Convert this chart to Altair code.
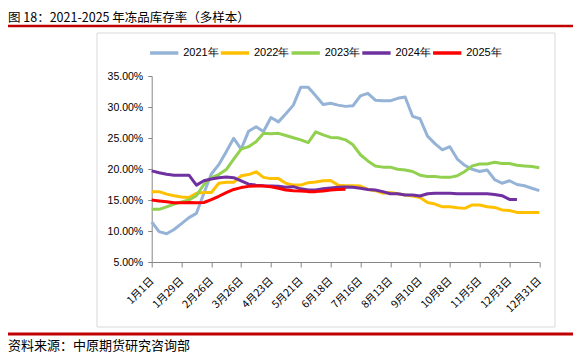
import altair as alt
import pandas as pd

TITLE = "图 18：2021-2025 年冻品库存率（多样本）"
SOURCE = "资料来源：中原期货研究咨询部"

series_names = ["2021年", "2022年", "2023年", "2024年", "2025年"]
series_colors = ["#95B3D7", "#FFC000", "#92D050", "#7030A0", "#FF0000"]

tick_labels = ["1月1日", "1月29日", "2月26日", "3月26日", "4月23日", "5月21日", "6月18日",
               "7月16日", "8月13日", "9月10日", "10月8日", "11月5日", "12月3日", "12月31日"]

v2021 = [11.45, 9.9, 9.55, 10.25, 11.2, 12.15, 12.85, 16.1, 19.2, 20.7, 22.8, 24.95, 23.2, 26.1,
         26.8, 26.05, 28.3, 27.6, 28.9, 30.3, 33.2, 33.2, 31.8, 30.4, 30.6, 30.3, 30.1,
         30.2, 31.8, 32.2, 31.1, 31.0, 31.0, 31.4, 31.6, 28.5, 28.1, 25.3, 24.1, 23.1, 23.6,
         21.6, 20.6, 19.95, 19.6, 19.85, 18.3, 17.7, 18.1, 17.5, 17.3, 16.9, 16.5]
v2022 = [16.35, 16.35, 15.95, 15.7, 15.5, 15.4, 16.1, 16.2, 16.2, 17.7, 17.85, 17.85, 18.9, 19.1,
         19.55, 18.65, 18.45, 18.45, 17.7, 17.4, 17.4, 17.8, 17.9, 18.1, 18.15, 17.4, 17.3,
         17.3, 17.25, 16.7, 16.5, 16.1, 16.2, 16.0, 15.8, 15.65, 15.4, 14.6, 14.35, 13.9, 13.9,
         13.75, 13.65, 14.2, 14.2, 13.9, 13.8, 13.4, 13.3, 13.0, 13.0, 13.0, 13.0]
v2023 = [13.5, 13.5, 13.9, 14.35, 14.7, 15.0, 15.7, 17.5, 18.6, 19.1, 19.9, 21.6, 23.2, 23.6,
         24.4, 25.75, 25.7, 25.75, 25.4, 25.05, 24.7, 24.25, 26.0, 25.5, 25.1, 25.05, 24.7,
         23.9, 22.3, 21.3, 20.5, 20.3, 20.3, 19.95, 19.85, 19.6, 19.0, 18.8, 18.8, 18.65, 18.65,
         18.9, 19.6, 20.5, 20.8, 20.8, 21.1, 20.9, 20.9, 20.6, 20.5, 20.4, 20.2]
v2024 = [19.7, 19.4, 19.15, 19.0, 19.0, 19.0, 17.4, 18.1, 18.4, 18.6, 18.7, 18.6, 18.1, 17.55,
         17.4, 17.3, 17.25, 17.2, 17.05, 17.15, 16.8, 16.6, 16.6, 16.8, 16.95, 17.05, 17.1,
         17.05, 16.9, 16.7, 16.6, 16.35, 16.0, 16.0, 15.8, 15.8, 15.65, 16.0, 16.1, 16.1, 16.1,
         16.0, 16.0, 16.0, 16.0, 16.0, 15.9, 15.7, 15.1, 15.1]
v2025 = [15.0, 14.85, 14.7, 14.55, 14.55, 14.6, 14.55, 14.6, 15.05, 15.6, 16.2, 16.7, 17.0, 17.2,
         17.25, 17.25, 17.15, 16.9, 16.6, 16.5, 16.45, 16.35, 16.35, 16.45, 16.6, 16.7, 16.75]

rows = []
for name, vals in zip(series_names, [v2021, v2022, v2023, v2024, v2025]):
    for i, v in enumerate(vals):
        rows.append({"week": i, "series": name, "value": v, "order": series_names.index(name)})
df = pd.DataFrame(rows)
legend_df = pd.DataFrame({"series": series_names})

label_expr = "[" + ",".join("'" + t + "'" for t in tick_labels) + "][round(datum.value/4)]"

AXIS_COLOR = "#868686"
color_scale = alt.Scale(domain=series_names, range=series_colors)

lines = alt.Chart(df).mark_line(strokeWidth=3, strokeJoin="round").encode(
    x=alt.X("week:Q", scale=alt.Scale(domain=[0, 52], nice=False, zero=False),
            axis=alt.Axis(values=list(range(0, 53, 4)), labelExpr=label_expr, title=None,
                          grid=False, labelAngle=315, labelAlign="right", labelBaseline="middle",
                          labelPadding=12, tickSize=5, labelOverlap=False, labelBound=False,
                          labelFlush=False,
                          domainColor=AXIS_COLOR, tickColor=AXIS_COLOR,
                          labelFont="Noto Sans CJK SC", labelFontSize=10.5, labelColor="#000000")),
    y=alt.Y("value:Q", scale=alt.Scale(domain=[5, 35], nice=False, zero=False),
            axis=alt.Axis(values=[5, 10, 15, 20, 25, 30, 35], labelExpr="format(datum.value, '.2f') + '%'",
                          title=None, grid=False, tickSize=4, labelPadding=5, labelOverlap=False,
                          domainColor=AXIS_COLOR, tickColor=AXIS_COLOR,
                          labelFont="Liberation Sans", labelFontSize=10.5, labelColor="#000000")),
    color=alt.Color("series:N", scale=color_scale, legend=None),
    order=alt.Order("order:Q"),
)

# legend built from the series list, placed by a point scale
legend_x = alt.X("series:N", scale=alt.Scale(type="point", domain=series_names,
                                             range=[12.5, 295.5], padding=0), axis=None)
legend_sym = alt.Chart(legend_df).mark_point(shape="stroke", size=800, strokeWidth=3.5,
                                             filled=False, opacity=1).encode(
    x=legend_x, y=alt.value(-23),
    color=alt.Color("series:N", scale=color_scale, legend=None))
legend_txt = alt.Chart(legend_df).mark_text(align="left", baseline="middle", dx=19, fontSize=11,
                                            font="Liberation Sans", color="#000000").encode(
    x=legend_x, y=alt.value(-23), text="series:N")

one = pd.DataFrame({"d": [0]})

title = alt.Chart(one).mark_text(align="left", baseline="middle", fontSize=12.5,
                                 font="Noto Sans CJK SC", color="#000000").encode(
    x=alt.value(-143.7), y=alt.value(-58.5), text=alt.value(TITLE))
source = alt.Chart(one).mark_text(align="left", baseline="middle", fontSize=13,
                                  font="Noto Sans CJK SC", color="#000000").encode(
    x=alt.value(-143.7), y=alt.value(269.5), text=alt.value(SOURCE))
top_rule = alt.Chart(one).mark_rule(color="#C00000", strokeWidth=2.5).encode(
    x=alt.value(-160), x2=alt.value(440), y=alt.value(-50))
bottom_rule = alt.Chart(one).mark_rule(color="#C00000", strokeWidth=3).encode(
    x=alt.value(-160), x2=alt.value(440), y=alt.value(258))
box = alt.Chart(one).mark_rect(filled=False, stroke="#D9D9D9", strokeWidth=1).encode(
    x=alt.value(-54.7), x2=alt.value(403.3), y=alt.value(-43), y2=alt.value(251))

chart = alt.layer(box, top_rule, bottom_rule, title, source, lines, legend_sym, legend_txt).resolve_scale(
    x="independent"
).properties(
    width=387.6, height=186,
    autosize=alt.AutoSizeParams(type="none"),
    padding={"left": 143.7, "top": 68, "right": 33.7, "bottom": 91},
    background="#FFFFFF",
).configure_view(strokeWidth=0)

chart.save("out.html", embed_options={"renderer": "svg", "actions": False})
